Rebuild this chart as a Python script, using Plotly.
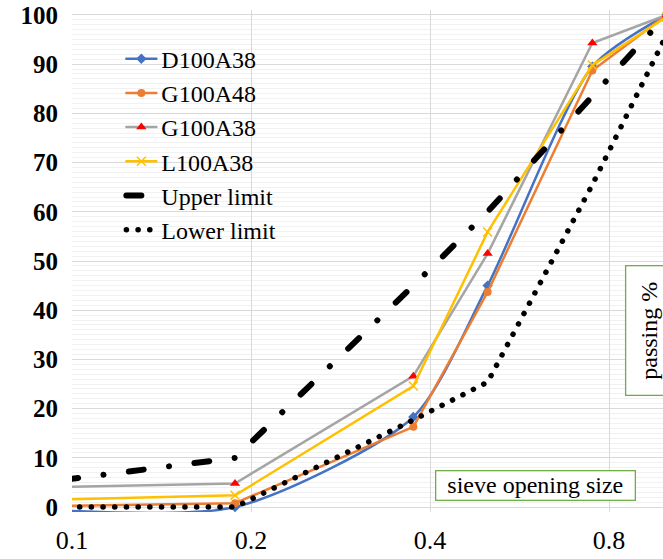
import plotly.graph_objects as go

sizes = [0.075, 0.188, 0.375, 0.5, 0.75, 1.0]
d100a38 = [0, 0, 18.3, 45.0, 89.5, 100]
g100a48 = [0, 0.8, 16.3, 43.7, 88.7, 100]
g100a38 = [3.8, 4.8, 26.6, 51.5, 94.3, 100]
l100a38 = [1.2, 2.4, 24.6, 55.9, 89.8, 99.6]
upper = [3.8, 10.0, 45.0, 60.0, 83.5, 100]
lower = [0, 0, 17.7, 25.4, 65.5, 96]

x_ticks = [0.1, 0.2, 0.4, 0.8]
x_ticktext = ["0.1", "0.2", "0.4", "0.8"]
y_ticks = list(range(0, 101, 10))

FONT = "Liberation Serif, Times New Roman, serif"

fig = go.Figure()
fig.add_trace(go.Scatter(x=sizes, y=d100a38, name="D100A38", mode="lines+markers",
                         line=dict(color="#4472c4", width=2.5, shape="spline", smoothing=0.7),
                         marker=dict(symbol="diamond", size=8, color="#4472c4")))
fig.add_trace(go.Scatter(x=sizes, y=g100a48, name="G100A48", mode="lines+markers",
                         line=dict(color="#ed7d31", width=2.5),
                         marker=dict(symbol="circle", size=8, color="#ed7d31")))
fig.add_trace(go.Scatter(x=sizes, y=g100a38, name="G100A38", mode="lines+markers",
                         line=dict(color="#a5a5a5", width=2.5),
                         marker=dict(symbol="triangle-up", size=9, color="#ff0000")))
fig.add_trace(go.Scatter(x=sizes, y=l100a38, name="L100A38", mode="lines+markers",
                         line=dict(color="#ffc000", width=2.5),
                         marker=dict(symbol="x-thin-open", size=9, color="#ffc000",
                                     line=dict(width=1.5, color="#ffc000"))))
fig.add_trace(go.Scatter(x=sizes, y=upper, name="Upper limit", mode="lines",
                         line=dict(color="black", width=6, dash="15px,25.5px,0.1px,25.5px")))
fig.add_trace(go.Scatter(x=sizes, y=lower, name="Lower limit", mode="lines",
                         line=dict(color="black", width=5.5, dash="0.1px,11.6px")))

fig.update_layout(
    width=663, height=559,
    margin=dict(l=72, r=0, t=10, b=47),
    paper_bgcolor="white", plot_bgcolor="white",
    font=dict(family=FONT, size=24, color="black"),
    showlegend=True,
    legend=dict(x=0.0835, y=0.947, xanchor="left", yanchor="top",
                bgcolor="rgba(0,0,0,0)", font=dict(family=FONT, size=24, color="black"),
                tracegroupgap=0),
    xaxis=dict(type="log", range=[-1, -0.0061], tickvals=x_ticks, ticktext=x_ticktext,
               showgrid=True, gridcolor="#d9d9d9", gridwidth=1, zeroline=False,
               showline=False, ticks="", ticklabelstandoff=10,
               tickfont=dict(family=FONT, size=26, color="black")),
    yaxis=dict(range=[-1, 101], tickvals=y_ticks, showgrid=True, gridcolor="#d9d9d9", gridwidth=1,
               zeroline=False, showline=False, ticks="",
               ticklabelstandoff=13,
               minor=dict(tickvals=[v for v in range(0, 101) if v % 10], showgrid=True,
                          gridcolor="#f1f1f1", gridwidth=1),
               tickfont=dict(family=FONT, size=25, color="black", weight="bold")),
    annotations=[
        dict(text="sieve opening size", xref="paper", yref="paper", x=0.785, y=0.0528,
             xanchor="center", yanchor="middle", showarrow=False,
             font=dict(family=FONT, size=24, color="black"),
             bgcolor="white", bordercolor="#70ad47", borderwidth=1.3, borderpad=1,
             width=196, height=26),
        dict(text="passing %", xref="paper", yref="paper", x=0.9763, y=0.3625,
             xanchor="center", yanchor="middle", showarrow=False, textangle=-90,
             font=dict(family=FONT, size=24, color="black"),
             bgcolor="white", bordercolor="#70ad47", borderwidth=1.3, borderpad=1,
             width=126, height=44),
    ],
)

post = """
var gd = document.getElementById('{plot_id}');
gd.querySelectorAll('path.js-line').forEach(function(p){ p.style.strokeLinecap = 'round'; });
"""
fig.write_html("out.html", post_script=post)
